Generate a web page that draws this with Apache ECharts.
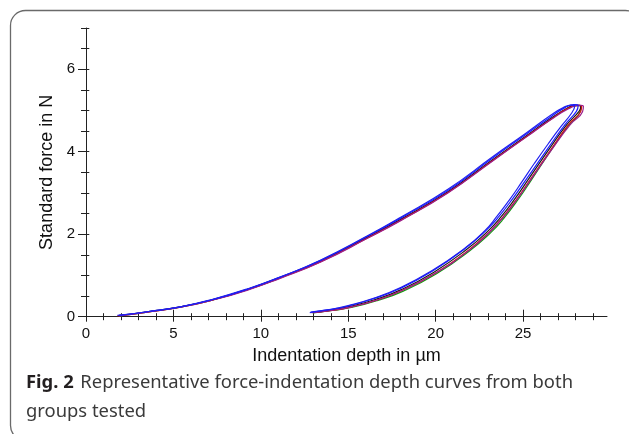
<!DOCTYPE html>
<html>
<head>
<meta charset="utf-8">
<script src="https://cdn.jsdelivr.net/npm/echarts@6/dist/echarts.min.js"></script>
<style>
  html, body { margin: 0; padding: 0; background: #fff; }
  #chart { width: 629px; height: 434px; }
</style>
</head>
<body>
<div id="chart"></div>
<script>
// B data
// [depth in µm, force in N], loading branch then unloading branch
var xMajorTicks = [0, 5, 10, 15, 20, 25]
var xMinorTicks = []
for (var i = 0; i <= 29; i++) xMinorTicks.push(i)
var yMajorTicks = [0, 2, 4, 6]
var yMinorTicks = [0, 0.5, 1, 1.5, 2, 2.5, 3, 3.5, 4, 4.5, 5, 5.5, 6, 6.5, 7]

var greenCurve = [
  [1.9, 0.02], [3.5, 0.11], [5.4, 0.23], [7.3, 0.41], [9.2, 0.65], [11.1, 0.94], [13.4, 1.34],
  [16.1, 1.92], [18.0, 2.35], [20.7, 3.02], [23.3, 3.81], [25.2, 4.38], [26.6, 4.8], [27.5, 5.04],
  [28.0, 5.12], [28.3, 5.1],
  [28.25, 4.96], [27.6, 4.64], [26.7, 4.1], [25.45, 3.3], [24.75, 2.86], [23.85, 2.36], [23.15, 2.04],
  [21.95, 1.6], [20.05, 1.04], [18.15, 0.62], [16.65, 0.39], [15.25, 0.23], [14.1, 0.15], [13.0, 0.09]
]
var blackCurve = [
  [1.9, 0.03], [3.5, 0.12], [5.4, 0.24], [7.3, 0.42], [9.2, 0.66], [11.1, 0.95], [13.4, 1.35],
  [16.1, 1.93], [18.0, 2.36], [20.7, 3.03], [23.3, 3.82], [25.2, 4.39], [26.6, 4.81], [27.5, 5.05],
  [28.0, 5.13], [28.3, 5.11],
  [28.2, 4.98], [27.5, 4.66], [26.6, 4.13], [25.3, 3.33], [24.6, 2.9], [23.7, 2.4], [23.0, 2.08],
  [21.8, 1.64], [19.9, 1.08], [18.0, 0.65], [16.5, 0.41], [15.1, 0.25], [14.0, 0.16], [12.9, 0.1]
]
var redCurve = [
  [1.8, 0.02], [3.5, 0.11], [5.4, 0.23], [7.3, 0.41], [9.2, 0.65], [11.1, 0.94], [13.4, 1.33],
  [16.1, 1.91], [18.0, 2.34], [20.7, 3.01], [23.3, 3.8], [25.2, 4.37], [26.6, 4.79], [27.5, 5.04],
  [28.1, 5.12], [28.35, 5.11],
  [28.3, 4.98], [27.6, 4.66], [26.7, 4.12], [25.4, 3.32], [24.7, 2.89], [23.8, 2.39], [23.1, 2.07],
  [21.9, 1.62], [20.0, 1.06], [18.1, 0.64], [16.6, 0.4], [15.2, 0.24], [14.05, 0.15], [12.95, 0.1]
]
var purpleCurve = [
  [1.9, 0.02], [3.5, 0.11], [5.4, 0.23], [7.3, 0.41], [9.2, 0.64], [11.1, 0.93], [13.4, 1.32],
  [16.1, 1.9], [18.0, 2.33], [20.7, 3.0], [23.3, 3.79], [25.2, 4.36], [26.6, 4.78], [27.6, 5.04],
  [28.2, 5.13], [28.45, 5.1],
  [28.4, 4.97], [27.7, 4.66], [26.75, 4.12], [25.45, 3.33], [24.75, 2.9], [23.85, 2.4], [23.1, 2.06],
  [21.95, 1.62], [20.0, 1.06], [18.1, 0.64], [16.6, 0.4], [15.2, 0.24], [14.05, 0.15], [13.0, 0.1]
]
var blueOuterCurve = [
  [1.8, 0.03], [3.5, 0.12], [5.4, 0.24], [7.3, 0.43], [9.2, 0.67], [11.1, 0.96], [13.4, 1.37],
  [16.1, 1.96], [18.0, 2.41], [20.7, 3.09], [23.3, 3.89], [25.2, 4.46], [26.6, 4.89], [27.3, 5.07],
  [27.75, 5.13], [27.95, 5.1],
  [27.75, 4.92], [27.15, 4.6], [26.45, 4.2], [25.65, 3.72], [24.95, 3.28], [24.2, 2.82], [23.5, 2.43],
  [22.8, 2.08], [21.7, 1.67], [19.8, 1.12], [17.9, 0.69], [16.4, 0.44], [15.0, 0.27], [13.9, 0.17], [12.8, 0.1]
]
var blueInnerCurve = [
  [1.9, 0.03], [3.5, 0.12], [5.4, 0.24], [7.3, 0.42], [9.2, 0.66], [11.1, 0.96], [13.4, 1.36],
  [16.1, 1.95], [18.0, 2.39], [20.7, 3.06], [23.3, 3.86], [25.2, 4.43], [26.6, 4.85], [27.4, 5.07],
  [27.9, 5.14], [28.15, 5.12],
  [28.05, 4.98], [27.4, 4.66], [26.5, 4.13], [25.2, 3.34], [24.5, 2.92], [23.6, 2.42], [22.9, 2.1],
  [21.7, 1.66], [19.8, 1.1], [17.9, 0.67], [16.4, 0.43], [15.0, 0.26], [13.9, 0.17], [12.85, 0.11]
]
// E data

var chartDom = document.getElementById('chart')
var myChart = echarts.init(chartDom)

var axisColor = '#222'
var xMin = 0, xMax = 29.8
var yMin = 0, yMax = 7

// extra axes that only draw ticks (both sides of the axis line)
function tickAxis (base, values, inside, length) {
  return Object.assign({
    type: 'value',
    gridIndex: 0,
    axisLine: { show: false },
    axisLabel: { show: false },
    splitLine: { show: false },
    axisTick: {
      show: true,
      inside: inside,
      length: length,
      customValues: values,
      lineStyle: { color: axisColor, width: 1 }
    }
  }, base)
}

var xBase = { min: xMin, max: xMax, position: 'bottom' }
var yBase = { min: yMin, max: yMax, position: 'left' }

function line (name, data, color) {
  return {
    name: name,
    type: 'line',
    data: data,
    xAxisIndex: 0,
    yAxisIndex: 0,
    showSymbol: false,
    symbol: 'none',
    smooth: 0.5,
    silent: true,
    lineStyle: { color: color, width: 1.2 }
  }
}

var option = {
  backgroundColor: '#fff',
  animation: false,
  grid: { left: 86, top: 28, width: 521, height: 288.7 },
  xAxis: [
    {
      type: 'value', min: xMin, max: xMax, position: 'bottom',
      name: 'Indentation depth in µm',
      nameLocation: 'middle',
      nameGap: 30,
      nameTextStyle: { fontFamily: 'Liberation Sans', fontSize: 18, color: '#111' },
      axisLine: { show: true, lineStyle: { color: axisColor, width: 1 } },
      axisTick: { show: true, length: 5, customValues: xMajorTicks, lineStyle: { color: axisColor } },
      axisLabel: {
        customValues: xMajorTicks,
        margin: 10,
        fontFamily: 'Liberation Sans', fontSize: 15, color: '#111'
      },
      splitLine: { show: false }
    },
    tickAxis(xBase, xMajorTicks, true, 7),
    tickAxis(xBase, xMinorTicks, true, 3.5),
    tickAxis(xBase, xMinorTicks, false, 3.5)
  ],
  yAxis: [
    {
      type: 'value', min: yMin, max: yMax, position: 'left',
      name: 'Standard force in N',
      nameLocation: 'middle',
      nameGap: 29,
      nameTextStyle: { fontFamily: 'Liberation Sans', fontSize: 18, color: '#111' },
      axisLine: { show: true, lineStyle: { color: axisColor, width: 1 } },
      axisTick: { show: true, length: 8, customValues: yMajorTicks, lineStyle: { color: axisColor } },
      axisLabel: {
        customValues: yMajorTicks,
        margin: 11,
        fontFamily: 'Liberation Sans', fontSize: 15, color: '#111'
      },
      splitLine: { show: false }
    },
    tickAxis(yBase, yMinorTicks, false, 5),
    tickAxis(yBase, yMinorTicks, true, 3.3)
  ],
  series: [
    line('green', greenCurve, '#109a10'),
    line('black', blackCurve, '#1a1a1a'),
    line('red', redCurve, '#d01010'),
    line('purple', purpleCurve, '#9a1f8c'),
    line('blue 2', blueInnerCurve, '#1a1aff'),
    line('blue 1', blueOuterCurve, '#2020f0')
  ],
  graphic: [
    {
      type: 'rect',
      silent: true,
      shape: { x: 10.5, y: 10.5, width: 630, height: 430, r: 15 },
      style: { fill: 'none', stroke: '#6a6a6a', lineWidth: 1.3 }
    },
    {
      type: 'text',
      silent: true,
      x: 26,
      y: 368,
      style: {
        text: '{b|Fig. 2}  {r|Representative force-indentation depth curves from both}\n{r|groups tested}',
        verticalAlign: 'top',
        rich: {
          b: { fontFamily: 'Noto Sans', fontWeight: 'bold', fontSize: 18.4, lineHeight: 29, fill: '#231f20' },
          r: { fontFamily: 'Noto Sans', fontSize: 18.4, lineHeight: 29, fill: '#3a3a3a' }
        }
      }
    }
  ]
}

myChart.setOption(option)
</script>
</body>
</html>
